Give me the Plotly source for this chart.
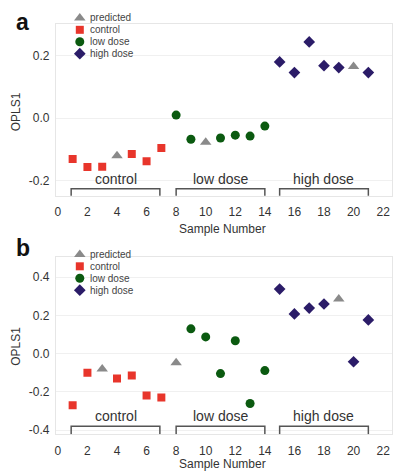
import plotly.graph_objects as go

# ---------------- data ----------------
# Panel a
a_control_x = [1, 2, 3, 5, 6, 7]
a_control_y = [-0.130, -0.156, -0.155, -0.114, -0.137, -0.095]
a_pred_x = [4, 10, 20]
a_pred_y = [-0.120, -0.077, 0.165]
a_low_x = [8, 9, 11, 12, 13, 14]
a_low_y = [0.010, -0.067, -0.063, -0.054, -0.057, -0.025]
a_high_x = [15, 16, 17, 18, 19, 21]
a_high_y = [0.180, 0.146, 0.244, 0.168, 0.162, 0.146]

# Panel b
b_control_x = [1, 2, 4, 5, 6, 7]
b_control_y = [-0.270, -0.099, -0.130, -0.114, -0.218, -0.229]
b_pred_x = [3, 8, 19]
b_pred_y = [-0.080, -0.047, 0.286]
b_low_x = [9, 10, 11, 12, 13, 14]
b_low_y = [0.130, 0.088, -0.104, 0.068, -0.260, -0.088]
b_high_x = [15, 16, 17, 18, 20, 21]
b_high_y = [0.338, 0.208, 0.239, 0.260, -0.042, 0.177]

x_ticks = list(range(0, 23, 2))
a_y_ticks = [-0.2, 0.0, 0.2]
a_y_ticktext = ["-0.2", "0.0", "0.2"]
b_y_ticks = [-0.4, -0.2, 0.0, 0.2, 0.4]
b_y_ticktext = ["-0.4", "-0.2", "0.0", "0.2", "0.4"]

group_names = ["control", "low dose", "high dose"]
group_start = [0.9, 8.0, 15.0]
group_end = [6.9, 14.0, 21.0]

legend_names = ["predicted", "control", "low dose", "high dose"]

# ---------------- styles ----------------
FONT = "Liberation Sans, Arial, sans-serif"
C_RED = "#e8352b"
C_GREEN = "#0b5a10"
C_NAVY = "#2b1c68"
C_GREY = "#8a8a8a"
styles = {
    "predicted": dict(symbol="triangle-up", color=C_GREY, size=10),
    "control": dict(symbol="square", color=C_RED, size=8),
    "low dose": dict(symbol="circle", color=C_GREEN, size=9),
    "high dose": dict(symbol="diamond", color=C_NAVY, size=9),
}

W, H = 394, 473
fig = go.Figure()


def add(xs, ys, name, xa, ya):
    st = styles[name]
    fig.add_trace(go.Scatter(
        x=xs, y=ys, mode="markers", name=name, showlegend=False,
        xaxis=xa, yaxis=ya,
        marker=dict(symbol=st["symbol"], color=st["color"], size=st["size"],
                    line=dict(width=0)),
    ))


add(a_control_x, a_control_y, "control", "x", "y")
add(a_low_x, a_low_y, "low dose", "x", "y")
add(a_high_x, a_high_y, "high dose", "x", "y")
add(a_pred_x, a_pred_y, "predicted", "x", "y")

add(b_control_x, b_control_y, "control", "x2", "y2")
add(b_low_x, b_low_y, "low dose", "x2", "y2")
add(b_high_x, b_high_y, "high dose", "x2", "y2")
add(b_pred_x, b_pred_y, "predicted", "x2", "y2")

# pixel-space overlay axis for the custom compact legends
legend_tops = [18, 256]
legend_step = 12
legend_marker_x = 79
legend_text_x = 87
for top in legend_tops:
    for i, nm in enumerate(legend_names):
        st = styles[nm]
        fig.add_trace(go.Scatter(
            x=[legend_marker_x], y=[top + i * legend_step], mode="markers",
            xaxis="x3", yaxis="y3", showlegend=False, hoverinfo="skip",
            marker=dict(symbol=st["symbol"], color=st["color"],
                        size=st["size"], line=dict(width=0)),
        ))

annotations = []
shapes = []
for top in legend_tops:
    for i, nm in enumerate(legend_names):
        annotations.append(dict(
            x=legend_text_x, y=top + i * legend_step, xref="x3", yref="y3",
            text=nm, showarrow=False, xanchor="left", yanchor="middle",
            font=dict(family=FONT, size=10, color="#444")))

# brackets and group labels
panels = [
    dict(xr="x", yr="y", top=-0.225, bot=-0.250, lab=-0.194),
    dict(xr="x2", yr="y2", top=-0.379, bot=-0.421, lab=-0.327),
]
for p in panels:
    for nm, s, e in zip(group_names, group_start, group_end):
        shapes.append(dict(
            type="path", xref=p["xr"], yref=p["yr"],
            path=f"M {s},{p['bot']} L {s},{p['top']} L {e},{p['top']} L {e},{p['bot']}",
            line=dict(color="#555", width=1.5)))
        annotations.append(dict(
            x=(s + e) / 2, y=p["lab"], xref=p["xr"], yref=p["yr"], text=nm,
            showarrow=False, xanchor="center", yanchor="middle",
            font=dict(family=FONT, size=14, color="#333")))

# panel letters and axis titles
annotations += [
    dict(x=22, y=22, xref="x3", yref="y3", text="<b>a</b>", showarrow=False,
         font=dict(family=FONT, size=23, color="#111"), xanchor="center", yanchor="middle"),
    dict(x=22, y=250, xref="x3", yref="y3", text="<b>b</b>", showarrow=False,
         font=dict(family=FONT, size=23, color="#111"), xanchor="center", yanchor="middle"),
    dict(x=222, y=230, xref="x3", yref="y3", text="Sample Number", showarrow=False,
         font=dict(family=FONT, size=12, color="#333"), xanchor="center", yanchor="middle"),
    dict(x=222, y=467, xref="x3", yref="y3", text="Sample Number", showarrow=False,
         font=dict(family=FONT, size=12, color="#333"), xanchor="center", yanchor="middle"),
    dict(x=15, y=112, xref="x3", yref="y3", text="OPLS1", showarrow=False, textangle=-90,
         font=dict(family=FONT, size=12, color="#333"), xanchor="center", yanchor="middle"),
    dict(x=15, y=348, xref="x3", yref="y3", text="OPLS1", showarrow=False, textangle=-90,
         font=dict(family=FONT, size=12, color="#333"), xanchor="center", yanchor="middle"),
]

xdom = [55 / W, 392 / W]
xrange = [-0.135, 22.6]
common_x = dict(domain=xdom, range=xrange, tickvals=x_ticks, showgrid=False,
                zeroline=False, showline=True, linecolor="#e6e6e6", mirror=True,
                ticks="", ticklabelstandoff=5,
                tickfont=dict(family=FONT, size=12, color="#333"))
common_y = dict(showgrid=True, gridcolor="#f0f0f0", zeroline=False, showline=True,
                linecolor="#e6e6e6", mirror=True, ticks="", ticklabelstandoff=3,
                tickfont=dict(family=FONT, size=12, color="#333"))

fig.update_layout(
    width=W, height=H, margin=dict(l=0, r=0, t=0, b=0),
    paper_bgcolor="white", plot_bgcolor="rgba(0,0,0,0)",
    showlegend=False,
    xaxis=dict(anchor="y", **common_x),
    yaxis=dict(anchor="x", domain=[1 - 197 / H, 1 - 24 / H], range=[-0.2476, 0.3016],
               tickvals=a_y_ticks, ticktext=a_y_ticktext, **common_y),
    xaxis2=dict(anchor="y2", **common_x),
    yaxis2=dict(anchor="x2", domain=[1 - 437 / H, 1 - 259 / H], range=[-0.421, 0.504],
                tickvals=b_y_ticks, ticktext=b_y_ticktext, **common_y),
    xaxis3=dict(anchor="y3", domain=[0, 1], range=[0, W], visible=False, fixedrange=True),
    yaxis3=dict(anchor="x3", domain=[0, 1], range=[H, 0], visible=False, fixedrange=True),
    annotations=annotations, shapes=shapes,
)

fig.write_html("out.html")
